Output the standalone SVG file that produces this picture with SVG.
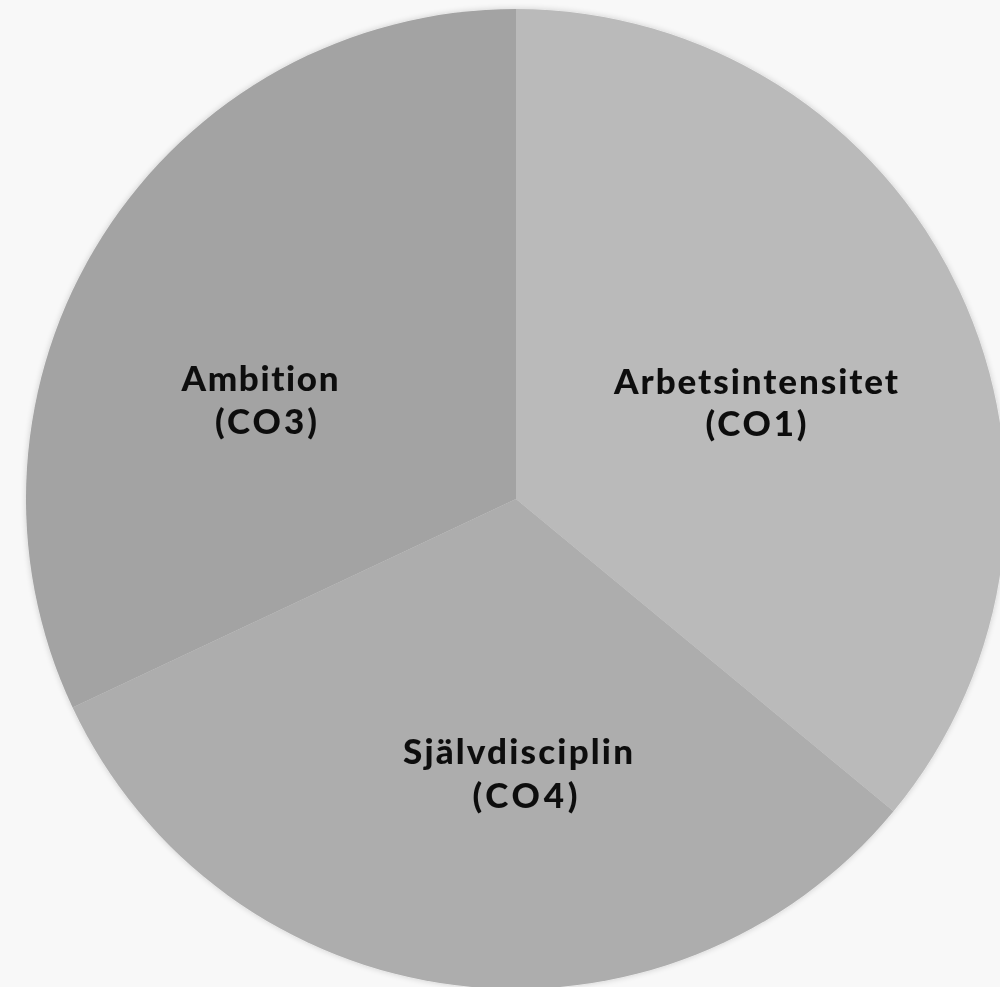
<svg xmlns="http://www.w3.org/2000/svg" width="1000" height="987" viewBox="0 0 1000 987">
<defs>
<style>
.lbl{font-family:"Lato","Liberation Sans",sans-serif;font-weight:900;font-size:35px;fill:#111;text-anchor:middle;font-variant-ligatures:none}
</style>
<filter id="sh" x="-5%" y="-5%" width="110%" height="110%">
<feGaussianBlur in="SourceAlpha" stdDeviation="3"/>
<feComponentTransfer><feFuncA type="linear" slope="0.18"/></feComponentTransfer>
<feMerge><feMergeNode/><feMergeNode in="SourceGraphic"/></feMerge>
</filter>
</defs>
<rect width="1000" height="987" fill="#f8f8f8"/>
<g filter="url(#sh)">
<g id="co1">
<path d="M516,499 L516,9 A490,490 0 0 1 893.5,811.3 Z" fill="#bababa"/>
<text class="lbl" x="756" y="394" textLength="284" lengthAdjust="spacing">Arbetsintensitet</text>
<text class="lbl" x="756" y="436" textLength="101" lengthAdjust="spacing">(CO1)</text>
</g>
<g id="co4">
<path d="M516,499 L893.5,811.3 A490,490 0 0 1 72.6,707.6 Z" fill="#adadad"/>
<text class="lbl" x="518" y="764" textLength="230" lengthAdjust="spacing">Självdisciplin</text>
<text class="lbl" x="525" y="808" textLength="105" lengthAdjust="spacing">(CO4)</text>
</g>
<g id="co3">
<path d="M516,499 L72.6,707.6 A490,490 0 0 1 516,9 Z" fill="#a3a3a3"/>
<text class="lbl" x="260" y="391" textLength="157" lengthAdjust="spacing">Ambition</text>
<text class="lbl" x="266" y="434" textLength="102" lengthAdjust="spacing">(CO3)</text>
</g>
</g>
<g id="connectors"/>
</svg>
